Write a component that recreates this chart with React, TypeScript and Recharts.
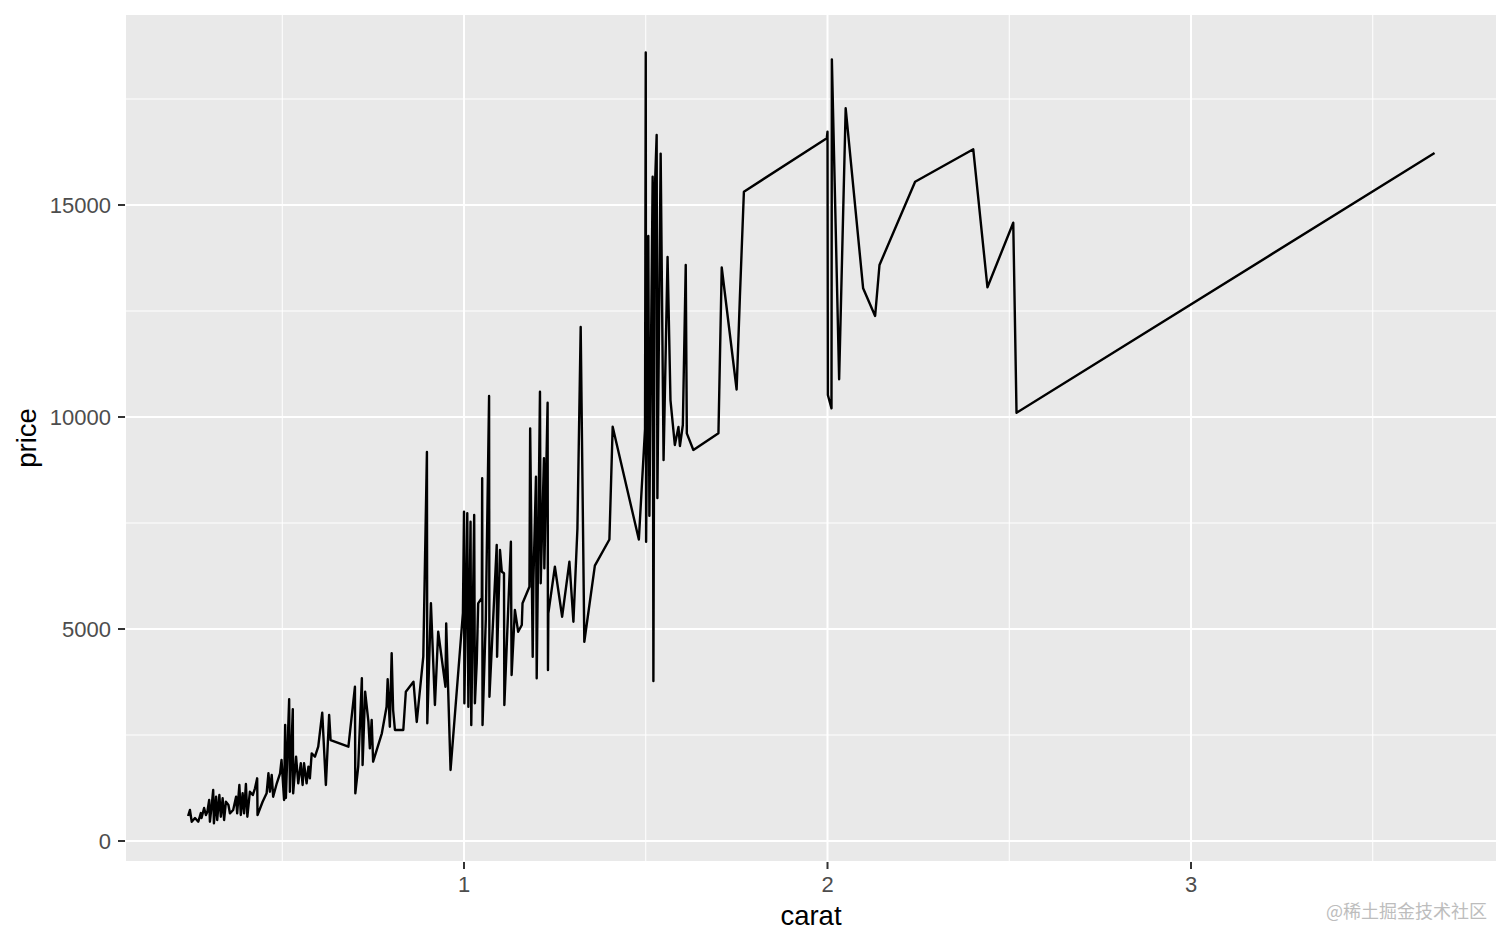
import { CartesianGrid, Label, Line, LineChart, XAxis, YAxis } from 'recharts';

// carat / price pairs, sorted by carat (geom_line order)
const carat = [
  0.241, 0.246, 0.251, 0.26, 0.269, 0.276, 0.278, 0.285, 0.29, 0.294,
  0.299, 0.301, 0.306, 0.31, 0.312, 0.318, 0.321, 0.327, 0.331, 0.336,
  0.34, 0.345, 0.352, 0.356, 0.365, 0.373, 0.376, 0.382, 0.386, 0.391,
  0.395, 0.4, 0.404, 0.411, 0.419, 0.425, 0.431, 0.432, 0.446, 0.457,
  0.462, 0.466, 0.471, 0.475, 0.485, 0.494, 0.498, 0.505, 0.508, 0.51,
  0.519, 0.521, 0.529, 0.53, 0.538, 0.544, 0.551, 0.556, 0.56, 0.567,
  0.572, 0.576, 0.581, 0.59, 0.599, 0.61, 0.62, 0.629, 0.633, 0.682,
  0.7, 0.701, 0.709, 0.719, 0.721, 0.728, 0.737, 0.741, 0.746, 0.75,
  0.774, 0.787, 0.79, 0.796, 0.801, 0.805, 0.81, 0.833, 0.84, 0.861,
  0.87, 0.888, 0.898, 0.899, 0.909, 0.92, 0.929, 0.949, 0.951, 0.963,
  0.997, 1.0, 1.001, 1.009, 1.012, 1.018, 1.02, 1.028, 1.03, 1.035,
  1.039, 1.049, 1.05, 1.051, 1.06, 1.069, 1.07, 1.09, 1.091, 1.099,
  1.104, 1.11, 1.111, 1.129, 1.131, 1.14, 1.149, 1.159, 1.161, 1.18,
  1.182, 1.189, 1.191, 1.198, 1.2, 1.209, 1.211, 1.22, 1.221, 1.23,
  1.231, 1.232, 1.25, 1.27, 1.29, 1.301, 1.312, 1.321, 1.331, 1.36,
  1.4, 1.409, 1.481, 1.498, 1.5, 1.501, 1.507, 1.51, 1.519, 1.521,
  1.525, 1.53, 1.532, 1.541, 1.549, 1.56, 1.568, 1.58, 1.59, 1.594,
  1.602, 1.61, 1.613, 1.631, 1.7, 1.709, 1.75, 1.759, 1.77, 1.998,
  2.0, 2.001, 2.011, 2.012, 2.032, 2.05, 2.098, 2.131, 2.143, 2.241,
  2.401, 2.44, 2.511, 2.52, 3.67,
];

const price = [
  590, 731, 455, 542, 455, 660, 542, 778, 613, 691,
  967, 455, 849, 1203, 417, 1045, 495, 1085, 573, 1007,
  495, 927, 849, 653, 731, 1045, 653, 1321, 613, 1125,
  653, 1344, 573, 1163, 1085, 1243, 1479, 613, 927, 1125,
  1597, 1163, 1557, 1045, 1361, 1597, 1910, 967, 2736, 1014,
  3342, 1163, 3106, 1125, 1988, 1361, 1833, 1321, 1833, 1361,
  1752, 1479, 2068, 1988, 2224, 3026, 1321, 2972, 2382, 2224,
  3639, 1125, 1752, 3837, 1792, 3521, 2814, 2186, 2854, 1870,
  2540, 3167, 3814, 2696, 4427, 3090, 2618, 2618, 3521, 3757,
  2807, 4347, 9175, 2776, 5606, 3208, 4936, 3639, 5134, 1675,
  5377, 7767, 3248, 7729, 3167, 7531, 2736, 7689, 3248, 4191,
  5606, 5731, 8554, 2736, 5236, 10495, 3403, 6981, 4347, 6863,
  6351, 6314, 3208, 7059, 3915, 5448, 4936, 5094, 5606, 5998,
  9733, 4347, 6156, 8592, 3837, 10597, 6078, 9026, 6432, 10337,
  4033, 5370, 6469, 5290, 6587, 5172, 7366, 12123, 4700, 6495,
  7111, 9769, 7111, 9717, 18597, 7059, 14269, 7672, 15668, 3774,
  15354, 16651, 8090, 16212, 8986, 13774, 10401, 9340, 9764, 9316,
  9811, 13585, 9613, 9222, 9616, 13526, 10649, 12837, 15314, 16573,
  16729, 10519, 10205, 18436, 10889, 17281, 13036, 12382, 13585, 15550,
  16314, 13059, 14583, 10101, 16226,
];

const xTicks = [1, 2, 3];
const yTicks = [0, 5000, 10000, 15000];
const xMinor = [0.5, 1.5, 2.5, 3.5];
const yMinor = [2500, 7500, 12500, 17500];

const data = carat.map((c, i) => ({ carat: c, price: price[i] }));

const FONT = '"Liberation Sans", Arial, Helvetica, sans-serif';
const tickStyle = { fontSize: 22, fill: '#4D4D4D', fontFamily: FONT };

const XTitle = (props: any) => {
  const vb = props.viewBox || { x: 117, y: 854, width: 1372, height: 83 };
  return (
    <text
      x={vb.x + vb.width / 2}
      y={vb.y + vb.height - 20}
      textAnchor='middle'
      fontSize={27.5}
      fill='#000'
      fontFamily={FONT}
    >
      carat
    </text>
  );
};

const YTitle = (props: any) => {
  const vb = props.viewBox || { x: 0, y: 6, width: 117, height: 848 };
  const cx = vb.x + 28;
  const cy = vb.y + vb.height / 2;
  return (
    <text
      x={cx}
      y={cy}
      transform={`rotate(-90 ${cx} ${cy})`}
      textAnchor='middle'
      fontSize={27.5}
      fill='#000'
      fontFamily={FONT}
    >
      price
    </text>
  );
};

export default function App() {
  return (
    <div style={{ position: 'relative', width: 1504, height: 937 }}>
      <LineChart
        width={1504}
        height={937}
        data={data}
        margin={{ top: 6, right: 15, left: 0, bottom: 0 }}
      >
        <CartesianGrid
          fill='#E9E9E9'
          stroke='#FFFFFF'
          strokeWidth={1}
          horizontalValues={yMinor}
          verticalValues={xMinor}
        />
        <CartesianGrid stroke='#FFFFFF' strokeWidth={2} />
        <XAxis
          type='number'
          dataKey='carat'
          domain={[0.0674, 3.8418]}
          ticks={xTicks}
          allowDataOverflow
          axisLine={false}
          tickLine={{ stroke: '#333333', strokeWidth: 2 }}
          tickSize={7}
          tickMargin={7}
          height={83}
          tick={tickStyle}
        >
          <Label content={XTitle} />
        </XAxis>
        <YAxis
          type='number'
          dataKey='price'
          domain={[-495, 19505]}
          ticks={yTicks}
          allowDataOverflow
          axisLine={false}
          tickLine={{ stroke: '#333333', strokeWidth: 2 }}
          tickSize={7}
          tickMargin={7}
          width={117}
          tick={tickStyle}
        >
          <Label content={YTitle} />
        </YAxis>
        <Line
          type='linear'
          dataKey='price'
          stroke='#000000'
          strokeWidth={2.4}
          strokeLinejoin='round'
          dot={false}
          activeDot={false}
          isAnimationActive={false}
        />
      </LineChart>
      <span
        style={{
          position: 'absolute',
          left: 1318,
          top: 893,
          fontSize: 18,
          lineHeight: '18px',
          color: '#BDBDBD',
          fontFamily: '"Noto Sans CJK SC", sans-serif',
          whiteSpace: 'nowrap',
        }}
      >
        @稀土掘金技术社区
      </span>
    </div>
  );
}
